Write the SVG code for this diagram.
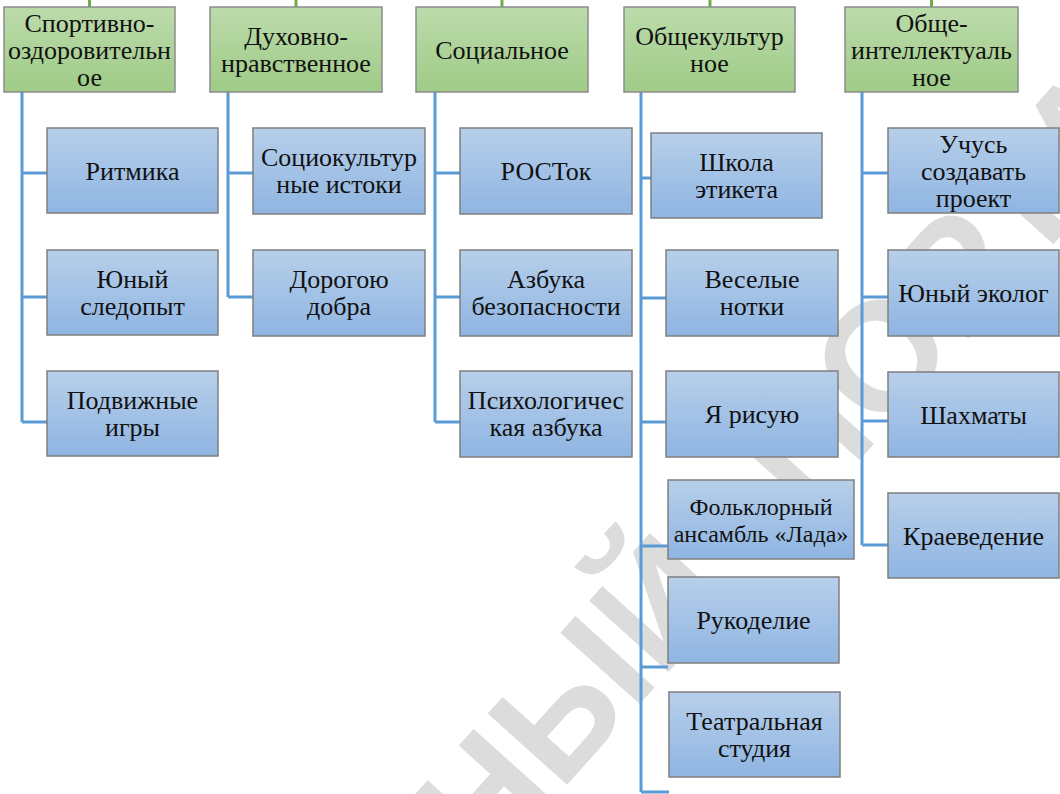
<svg xmlns="http://www.w3.org/2000/svg" width="1060" height="794" viewBox="0 0 1060 794" font-family="Liberation Serif">
<defs>
<linearGradient id="gGreen" x1="0" y1="0" x2="0" y2="1">
<stop offset="0" stop-color="#bcdbab"/>
<stop offset="1" stop-color="#9fcb87"/>
</linearGradient>
<linearGradient id="gBlue" x1="0" y1="0" x2="0" y2="1">
<stop offset="0" stop-color="#b7cfea"/>
<stop offset="1" stop-color="#8fb5e2"/>
</linearGradient>
</defs>
<style>
.hdr rect{fill:url(#gGreen);stroke:#8c8c8c;stroke-width:1.5}
.kid rect{fill:url(#gBlue);stroke:#7f7f7f;stroke-width:1.5}
.lbl text{fill:#111;text-anchor:middle;font-family:'Liberation Serif',serif;font-size:26px}
.lbl text.sm{font-size:24px}
.blue{stroke:#5b9bd5;stroke-width:3;fill:none}
.green{stroke:#70ad47;stroke-width:3;fill:none}
.wm{fill:#dcdcdc;font-family:'Liberation Sans',sans-serif;font-weight:bold;font-size:155px}
</style>
<rect width="1060" height="794" fill="#ffffff"/>
<g id="watermark" transform="translate(736,597) rotate(-48)">
<text class="wm" x="0" y="0" text-anchor="end">ОБРАЗОВАТЕЛЬНЫЙ</text>
<text class="wm" x="105" y="0" text-anchor="start">ПОРТАЛ</text>
</g>
<g id="connectors">
<path class="green" d="M89.5,0V7M296,0V7M502,0V7M710,0V7M931.5,0V7"/>
<path class="blue" d="M22,92V422M22,173H47M22,297H47M22,422H47"/>
<path class="blue" d="M228,92V297M228,173H253M228,297H253"/>
<path class="blue" d="M435,92V422M435,173H460M435,297H460M435,422H460"/>
<path class="blue" d="M641,92V792M641,178H651M641,298H666M641,422H666M641,546H668M641,667H668M641,792H669"/>
<path class="blue" d="M862,92V545M862,173H888M862,297H888M862,421H888M862,545H888"/>
</g>
<g class="lbl">
<g id="h1" class="hdr"><rect x="4" y="7" width="171" height="85"/><text x="89.5" y="31.5">Спортивно-</text><text x="89.5" y="58.5">оздоровительн</text><text x="89.5" y="85.5">ое</text></g>
<g id="h2" class="hdr"><rect x="210" y="7" width="172" height="85"/><text x="296" y="45">Духовно-</text><text x="296" y="72">нравственное</text></g>
<g id="h3" class="hdr"><rect x="416" y="7" width="172" height="85"/><text x="502" y="58.5">Социальное</text></g>
<g id="h4" class="hdr"><rect x="624" y="7" width="171" height="85"/><text x="709.5" y="45">Общекультур</text><text x="709.5" y="72">ное</text></g>
<g id="h5" class="hdr"><rect x="845" y="7" width="173" height="85"/><text x="931.5" y="31.5">Обще-</text><text x="931.5" y="58.5">интеллектуаль</text><text x="931.5" y="85.5">ное</text></g>
<g id="c1a" class="kid"><rect x="47" y="128" width="171" height="85"/><text x="132.5" y="179.5">Ритмика</text></g>
<g id="c1b" class="kid"><rect x="47" y="250" width="171" height="85"/><text x="132.5" y="288">Юный</text><text x="132.5" y="315">следопыт</text></g>
<g id="c1c" class="kid"><rect x="47" y="371" width="171" height="85"/><text x="132.5" y="409">Подвижные</text><text x="132.5" y="436">игры</text></g>
<g id="c2a" class="kid"><rect x="253" y="128" width="172" height="86"/><text x="339" y="166">Социокультур</text><text x="339" y="193">ные истоки</text></g>
<g id="c2b" class="kid"><rect x="253" y="250" width="172" height="86"/><text x="339" y="288">Дорогою</text><text x="339" y="315">добра</text></g>
<g id="c3a" class="kid"><rect x="460" y="128" width="172" height="86"/><text x="546" y="180">РОСТок</text></g>
<g id="c3b" class="kid"><rect x="460" y="250" width="172" height="86"/><text x="546" y="288">Азбука</text><text x="546" y="315">безопасности</text></g>
<g id="c3c" class="kid"><rect x="460" y="371" width="172" height="86"/><text x="546" y="409">Психологичес</text><text x="546" y="436">кая азбука</text></g>
<g id="c4a" class="kid"><rect x="651" y="133" width="171" height="85"/><text x="736.5" y="171">Школа</text><text x="736.5" y="198">этикета</text></g>
<g id="c4b" class="kid"><rect x="666" y="250" width="172" height="86"/><text x="752" y="288">Веселые</text><text x="752" y="315">нотки</text></g>
<g id="c4c" class="kid"><rect x="666" y="371" width="172" height="86"/><text x="752" y="423">Я рисую</text></g>
<g id="c4d" class="kid"><rect x="668" y="480" width="186" height="79"/><text class="sm" x="761" y="515">Фольклорный</text><text class="sm" x="761" y="542">ансамбль «Лада»</text></g>
<g id="c4e" class="kid"><rect x="668" y="577" width="171" height="86"/><text x="753.5" y="629">Рукоделие</text></g>
<g id="c4f" class="kid"><rect x="669" y="692" width="171" height="85"/><text x="754.5" y="730">Театральная</text><text x="754.5" y="757">студия</text></g>
<g id="c5a" class="kid"><rect x="888" y="128" width="171" height="85"/><text x="973.5" y="152.5">Учусь</text><text x="973.5" y="179.5">создавать</text><text x="973.5" y="206.5">проект</text></g>
<g id="c5b" class="kid"><rect x="888" y="250" width="171" height="86"/><text x="973.5" y="302">Юный эколог</text></g>
<g id="c5c" class="kid"><rect x="888" y="372" width="171" height="85"/><text x="973.5" y="423.5">Шахматы</text></g>
<g id="c5d" class="kid"><rect x="888" y="493" width="171" height="85"/><text x="973.5" y="544.5">Краеведение</text></g>
</g>
</svg>
